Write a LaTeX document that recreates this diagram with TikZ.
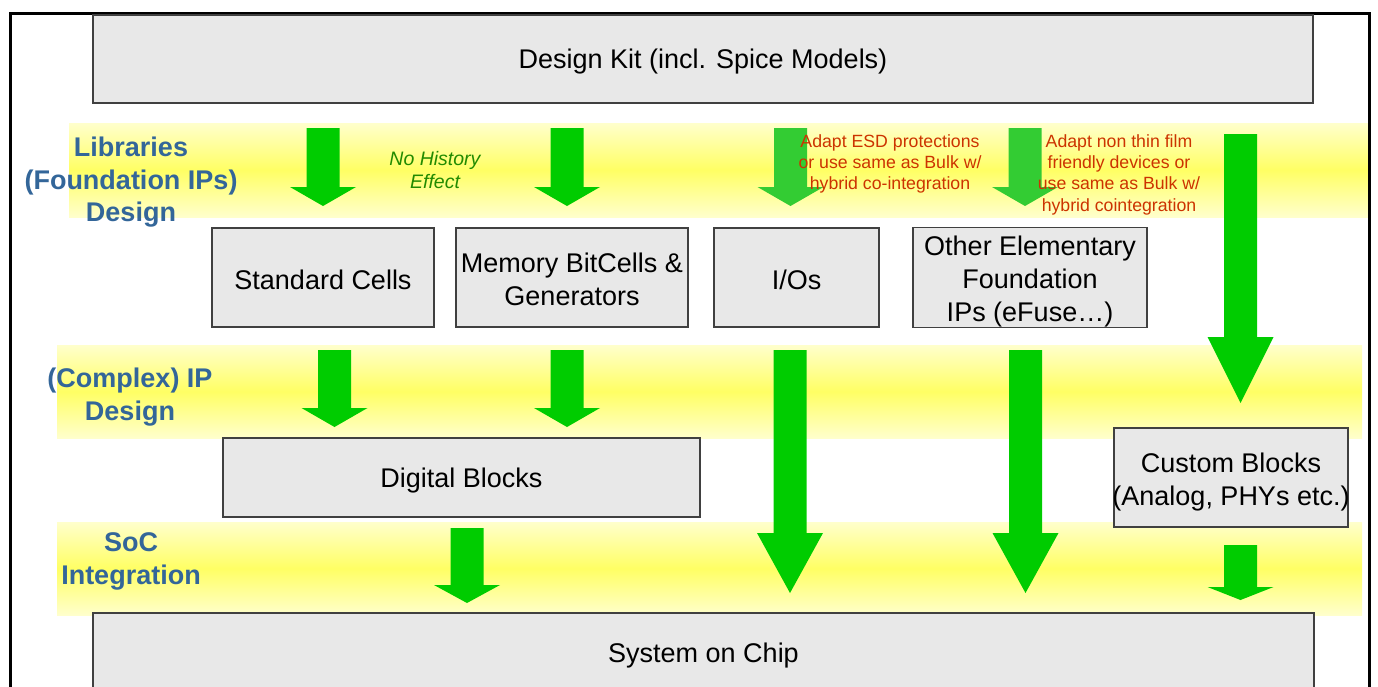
\documentclass[tikz,border=0pt]{standalone}
\usepackage{fontspec}
\setmainfont{Liberation Sans}
\usepackage{tikz}
\usetikzlibrary{positioning,calc}

\definecolor{boxfill}{RGB}{232,232,232}
\definecolor{boxline}{RGB}{64,64,64}
\definecolor{arrowgreen}{RGB}{0,204,0}
\definecolor{lightgreen}{RGB}{51,204,51}
\definecolor{bandpale}{RGB}{255,255,204}
\definecolor{bandmid}{RGB}{255,255,100}
\definecolor{phaseblue}{RGB}{51,102,153}
\definecolor{notered}{RGB}{204,51,0}
\definecolor{notegreen}{RGB}{34,139,0}

% block arrow: [colour]{x}{top}{head base}{tip}
\newcommand{\blockarrow}[5][arrowgreen]{%
  \fill[#1] ({#2-16.5},#3) -- ({#2+16.5},#3) -- ({#2+16.5},#4) -- ({#2+33},#4)
    -- (#2,#5) -- ({#2-33},#4) -- ({#2-16.5},#4) -- cycle;}
% lifts the first line of a box text
\newcommand{\lift}[1]{\rule{0pt}{#1pt}}

\begin{document}
\begin{tikzpicture}[
    x=1pt, y=-1pt,
    box/.style={rectangle, draw=boxline, fill=boxfill, line width=1.5pt, inner sep=0pt, align=center,
        font=\fontsize{27}{33}\selectfont},
    phase/.style={align=center, text=phaseblue, font=\bfseries\fontsize{27}{32.5}\selectfont},
    band/.style={top color=bandpale, bottom color=bandpale, middle color=bandmid},
    note/.style={align=center, text=notered, font=\fontsize{17.7}{21.3}\selectfont}
]
    \useasboundingbox (0,0) rectangle (1378,686);

    % yellow phase bands
    \shade[band] (69,123) rectangle (1370,217);
    \shade[band] (57,345) rectangle (1362,438);
    \shade[band] (57,522) rectangle (1362,615);

    % frame
    \draw[line width=3pt] (10.5,690) -- (10.5,13.5) -- (1369,13.5) -- (1369,690);

    % arrows
    \blockarrow{323}{128}{187}{206}
    \blockarrow{567}{128}{187}{206}
    \blockarrow[lightgreen]{790.5}{128}{187}{206}
    \blockarrow[lightgreen]{1025}{128}{187}{206}
    \blockarrow{1240.5}{134}{337}{403}
    \blockarrow{334.5}{350}{408}{427}
    \blockarrow{567}{350}{408}{427}
    \blockarrow{790}{350}{533}{593}
    \blockarrow{1025.5}{350}{533}{593}
    \blockarrow{467}{528}{585}{603}
    \blockarrow{1240.5}{545}{587}{600}

    % boxes
    \node[box, minimum width=1220, minimum height=88] (kit) at (703,59) {\lift{25}Design Kit (incl. Spice Models)};
    \node[box, minimum width=222, minimum height=99] (std) at (323,277.5) {\lift{25}Standard Cells};
    \node[box, minimum width=232, minimum height=99] (mem) at (572,277.5) {\lift{23}Memory BitCells \&\\Generators};
    \node[box, minimum width=165, minimum height=99] (io) at (796.5,277.5) {\lift{25}I/Os};
    \node[box, minimum width=234, minimum height=99] (other) at (1030,277.5) {\lift{28}Other Elementary\\Foundation\\IPs (eFuse…)};
    \node[box, minimum width=477, minimum height=79] (digital) at (461.5,477.5) {\lift{25}Digital Blocks};
    \node[box, minimum width=234, minimum height=99, inner xsep=-1.5pt] (custom) at (1231,477.5) {\lift{28}Custom Blocks\\(Analog, PHYs etc.)};
    \node[box, minimum width=1221, minimum height=80] (soc) at (703.5,653) {\lift{25}System on Chip};

    % phase labels
    \node[phase] (libs) at (131,182.5) {Libraries\\(Foundation IPs)\\Design};
    \node[phase] (ipdesign) at (130,397) {(Complex) IP\\Design};
    \node[phase] (socint) at (131,561.5) {SoC\\Integration};

    % notes
    \node[align=center, text=notegreen, font=\itshape\fontsize{19.5}{23}\selectfont] (nohist) at (435,170) {No History\\Effect};
    \node[note] (esd) at (890,164) {Adapt ESD protections\\or use same as Bulk w/\\hybrid co-integration};
    \node[note] (film) at (1119,174.5) {Adapt non thin film\\friendly devices or\\use same as Bulk w/\\hybrid cointegration};
\end{tikzpicture}
\end{document}
